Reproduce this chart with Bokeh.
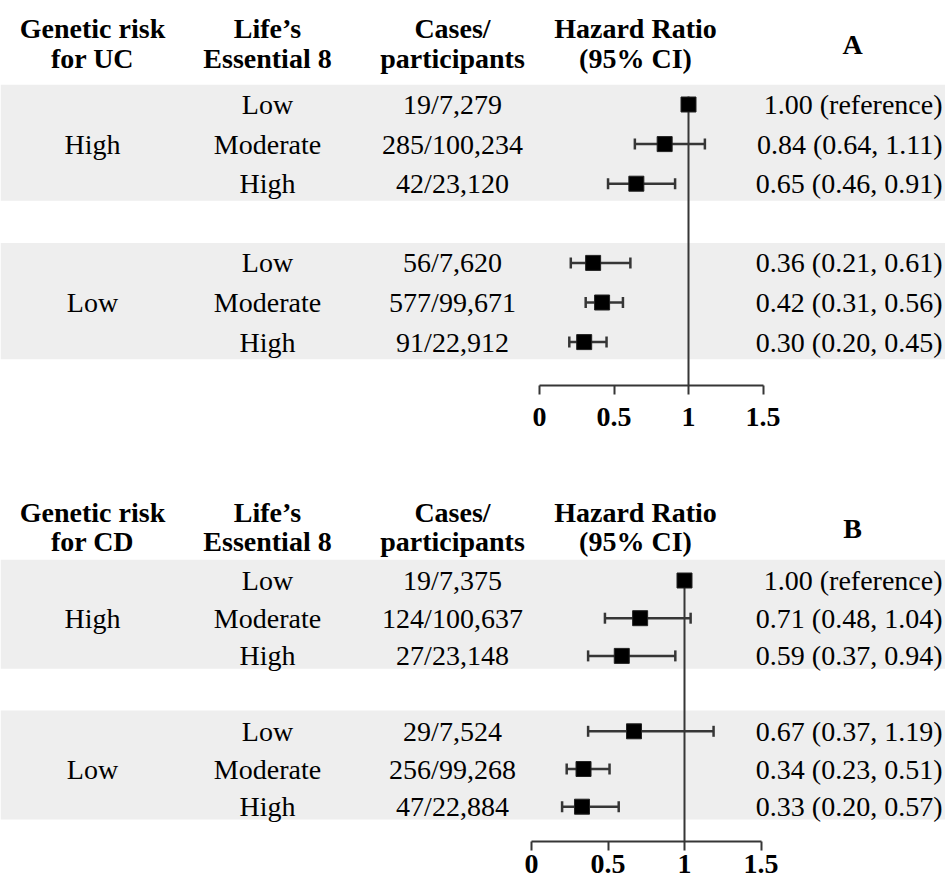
from bokeh.plotting import figure
from bokeh.models import ColumnDataSource, Range1d, FixedTicker, Whisker, TeeHead
from bokeh.layouts import column
from bokeh.core.properties import value
from bokeh.embed import file_html
from bokeh.resources import INLINE

# ---------------- data ----------------
GENETIC_GROUPS = ["High", "Low"]
LE8_LEVELS = ["Low", "Moderate", "High", "Low", "Moderate", "High"]

UC_CASES = ["19/7,279", "285/100,234", "42/23,120", "56/7,620", "577/99,671", "91/22,912"]
UC_HR = [1.00, 0.84, 0.65, 0.36, 0.42, 0.30]
UC_LO = [None, 0.64, 0.46, 0.21, 0.31, 0.20]
UC_HI = [None, 1.11, 0.91, 0.61, 0.56, 0.45]

CD_CASES = ["19/7,375", "124/100,637", "27/23,148", "29/7,524", "256/99,268", "47/22,884"]
CD_HR = [1.00, 0.71, 0.59, 0.67, 0.34, 0.33]
CD_LO = [None, 0.48, 0.37, 0.37, 0.23, 0.20]
CD_HI = [None, 1.04, 0.94, 1.19, 0.51, 0.57]

HEADERS = [["Life\u2019s", "Essential 8"], ["Cases/", "participants"], ["Hazard Ratio", "(95% CI)"]]
TICKS = [0, 0.5, 1, 1.5]
TICK_LABELS = ["0", "0.5", "1", "1.5"]
REF_HR = 1.0

# ---------------- layout / style (pixel positions on the page) ----------------
FONT = "Liberation Serif"
FS = "28px"
W = 945
DARK = "#363636"
BAND = "#eeeeee"
COLS = dict(gen=92, le8=267, cases=452, hr=635, letter=852, right=942)

LAYOUT_A = dict(zero=539, unit=149, row0=104, row_px=39.6, axis=385, bottom=56,
                standoff=13, h1=28, h2=58, letter=44, pad_top=0.5, pad_bot=0.43)
LAYOUT_B = dict(zero=531, unit=153, row0=580, row_px=37.7, axis=841, bottom=42,
                standoff=4, h1=512, h2=541, letter=528, pad_top=0.55, pad_bot=0.34)


def make_panel(disease, letter, cases, hr, lo, hi, L, page_y0):
    def xd(page_x):
        return (page_x - L["zero"]) / L["unit"]

    def yd(page_y):
        return (page_y - L["row0"]) / L["row_px"]

    rows = [i + i // 3 for i in range(len(hr))]
    y_axis = yd(L["axis"])
    x0, x1 = xd(0), xd(W)
    height = L["axis"] - page_y0 + L["bottom"]
    p = figure(width=W, height=height,
               x_range=Range1d(x0, x1), y_range=Range1d(y_axis, yd(page_y0)),
               output_backend="svg", toolbar_location=None, y_axis_location=None,
               min_border_left=0, min_border_right=0, min_border_top=0,
               min_border_bottom=L["bottom"], title=None, outline_line_color=None,
               background_fill_color="white", border_fill_color="white")
    p.xgrid.visible = False
    p.ygrid.visible = False

    # grey bands, one per genetic-risk group
    g_first = [rows[0], rows[3]]
    g_last = [rows[2], rows[5]]
    p.quad(left=[x0, x0], right=[x1, x1],
           top=[r - L["pad_top"] for r in g_first],
           bottom=[r + L["pad_bot"] for r in g_last],
           fill_color=BAND, line_color=None, level="underlay")

    # confidence intervals
    ci_idx = [i for i in range(len(hr)) if lo[i] is not None]
    ci_src = ColumnDataSource(dict(y=[rows[i] for i in ci_idx],
                                   lo=[lo[i] for i in ci_idx],
                                   hi=[hi[i] for i in ci_idx]))
    wk = Whisker(source=ci_src, base="y", lower="lo", upper="hi", dimension="width",
                 line_color=DARK, line_width=2.5, level="underlay",
                 lower_head=TeeHead(size=11, line_color=DARK, line_width=2.5),
                 upper_head=TeeHead(size=11, line_color=DARK, line_width=2.5))
    p.add_layout(wk)

    # reference line at HR = 1
    p.segment(x0=[REF_HR], x1=[REF_HR], y0=[rows[0] - 0.2], y1=[y_axis],
              line_color=DARK, line_width=2)

    # point estimates
    p.scatter(x=hr, y=rows, marker="square", size=15, fill_color="black",
              line_color="#222222", line_width=1)

    txt = dict(text_font=value(FONT), text_font_size=value(FS),
               text_baseline="middle", text_color="black")

    # body columns
    p.text(x=[xd(COLS["gen"])] * 2, y=[rows[1], rows[4]], text=GENETIC_GROUPS,
           text_align="center", **txt)
    p.text(x=[xd(COLS["le8"])] * len(rows), y=rows, text=LE8_LEVELS,
           text_align="center", **txt)
    p.text(x=[xd(COLS["cases"])] * len(rows), y=rows, text=cases,
           text_align="center", **txt)
    hr_txt = [f"{h:.2f} (reference)" if l is None else f"{h:.2f} ({l:.2f}, {u:.2f})"
              for h, l, u in zip(hr, lo, hi)]
    p.text(x=[xd(COLS["right"])] * len(rows), y=rows, text=hr_txt,
           text_align="right", **txt)

    # headers
    head = [["Genetic risk", f"for {disease}"]] + HEADERS
    hx = [xd(COLS[k]) for k in ("gen", "le8", "cases", "hr")]
    bold = dict(txt, text_font_style="bold")
    p.text(x=hx, y=[yd(L["h1"])] * 4, text=[h[0] for h in head], text_align="center", **bold)
    p.text(x=hx, y=[yd(L["h2"])] * 4, text=[h[1] for h in head], text_align="center", **bold)
    p.text(x=[xd(COLS["letter"])], y=[yd(L["letter"])], text=[letter],
           text_align="center", **bold)

    # axis
    ax = p.xaxis[0]
    ax.ticker = FixedTicker(ticks=TICKS)
    ax.major_label_overrides = {t: l for t, l in zip(TICKS, TICK_LABELS)}
    ax.bounds = (TICKS[0], TICKS[-1])
    ax.axis_line_color = DARK
    ax.axis_line_width = 2
    ax.major_tick_line_color = DARK
    ax.major_tick_line_width = 2
    ax.major_tick_in = 0
    ax.major_tick_out = 9
    ax.minor_tick_in = 0
    ax.minor_tick_out = 0
    ax.major_label_standoff = L["standoff"]
    ax.major_label_text_font = FONT
    ax.major_label_text_font_style = "bold"
    ax.major_label_text_font_size = "28px"
    ax.major_label_text_color = "black"
    return p, height


pA, hA = make_panel("UC", "A", UC_CASES, UC_HR, UC_LO, UC_HI, LAYOUT_A, 0)
pB, hB = make_panel("CD", "B", CD_CASES, CD_HR, CD_LO, CD_HI, LAYOUT_B, hA)

layout = column(pA, pB, spacing=0)
open("out.html", "w").write(file_html(layout, INLINE))
